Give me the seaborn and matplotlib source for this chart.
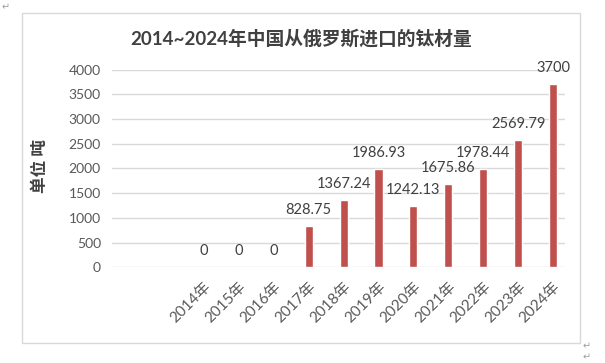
import matplotlib
matplotlib.use("Agg")
import matplotlib.pyplot as plt
import seaborn as sns
from matplotlib.patches import Rectangle

years = ["2014年", "2015年", "2016年", "2017年", "2018年", "2019年",
         "2020年", "2021年", "2022年", "2023年", "2024年"]
values = [0, 0, 0, 828.75, 1367.24, 1986.93, 1242.13, 1675.86, 1978.44, 2569.79, 3700]
y_ticks = [0, 500, 1000, 1500, 2000, 2500, 3000, 3500, 4000]
title = "2014~2024年中国从俄罗斯进口的钛材量"
y_label = "单位 吨"

sns.set_style("white")
plt.rcParams['font.family'] = ['Lato', 'Noto Sans CJK SC', 'DejaVu Sans']

fig = plt.figure(figsize=(6.05, 3.63), dpi=100)
ax = fig.add_axes([0.1851, 0.2636, 0.7488, 0.5449])

sns.barplot(x=years, y=values, color="#C0504D", saturation=1, width=0.23, ax=ax)

ax.set_xlim(-2.63, 10.34)
ax.set_ylim(0, 4000)
ax.set_yticks(y_ticks)
ax.set_yticklabels([str(t) for t in y_ticks], fontsize=10, color="#595959")
ax.set_axisbelow(True)
ax.yaxis.grid(True, color="#D9D9D9", lw=1)
ax.xaxis.grid(False)
for s in ax.spines.values():
    s.set_visible(False)
ax.tick_params(axis="y", length=0, pad=8)
ax.tick_params(axis="x", length=0, pad=9)
ax.set_xticks(range(len(years)))
ax.set_xticklabels(years, rotation=45, ha="right", rotation_mode="anchor",
                   fontsize=11, color="#595959")
ax.set_xlabel("")
ax.set_ylabel("")

ax.bar_label(ax.containers[0], labels=[f"{v:g}" for v in values],
             padding=6.5, fontsize=10.5, color="#404040")

fig.text(0.497, 0.895, title, ha="center", va="center", fontsize=13.5,
         fontweight="bold", color="#404040")
fig.text(0.066, 0.543, y_label, ha="center", va="center", rotation=90,
         fontsize=12, fontweight="bold", color="#404040")

fig.patches.append(Rectangle((0.0364, 0.0551), 0.9223, 0.909, transform=fig.transFigure,
                             fill=False, edgecolor="#D9D9D9", lw=1))

fig.text(0.003, 0.995, "↵", ha="left", va="top", fontsize=7, color="#A0A0A0",
         family="DejaVu Sans")
fig.text(0.963, 0.045, "↵", ha="left", va="center", fontsize=7, color="#A0A0A0",
         family="DejaVu Sans")
fig.text(0.963, 0.015, "↵", ha="left", va="center", fontsize=7, color="#A0A0A0",
         family="DejaVu Sans")

fig.savefig("out.png", dpi=100)
